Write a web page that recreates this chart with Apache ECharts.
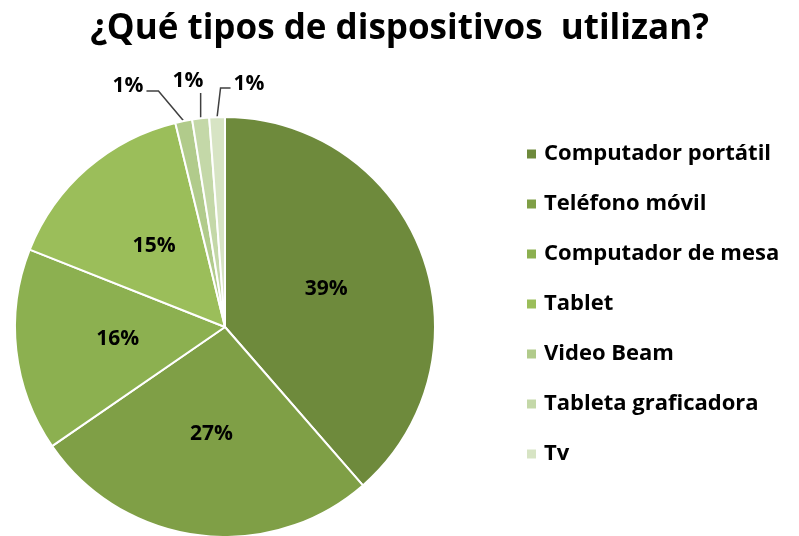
<!DOCTYPE html>
<html>
<head>
<meta charset="utf-8">
<script src="https://cdn.jsdelivr.net/npm/echarts@6/dist/echarts.min.js"></script>
<style>
  html, body { margin: 0; padding: 0; background: #fff; }
  #chart { width: 799px; height: 536px; }
</style>
</head>
<body>
<div id="chart"></div>
<script>
const categories = ['Computador portátil', 'Teléfono móvil', 'Computador de mesa', 'Tablet', 'Video Beam', 'Tableta graficadora', 'Tv'];
const values = [38.6, 26.8, 15.6, 15.2, 1.3, 1.3, 1.2];
const colors = ['#6e8a3c', '#7f9f46', '#8cb050', '#9bbe5a', '#b1cb8b', '#c4d8a8', '#d7e4c4'];

const myChart = echarts.init(document.getElementById('chart'));
const font = '"Open Sans", Lato, sans-serif';

// where the outside labels of the 3 thin slices sit (text centre)
const smallLabelSpots = {
  4: { x: 128, y: 86, side: 'left' },
  5: { x: 188, y: 81, side: 'down' },
  6: { x: 249, y: 84, side: 'right' }
};

const pieData = categories.map((name, i) => {
  const item = { name: name, value: values[i], itemStyle: { color: colors[i] } };
  if (i >= 4) {
    item.label = { position: 'outside' };
    item.labelLine = { show: true };
  }
  return item;
});

const option = {
  backgroundColor: '#fff',
  title: {
    text: '¿Qué tipos de dispositivos  utilizan?',
    left: 'center',
    top: 7,
    textStyle: { fontFamily: font, fontWeight: 'bold', fontSize: 35, color: '#000' }
  },
  legend: {
    orient: 'vertical',
    left: 520,
    top: 138,
    itemWidth: 11,
    itemHeight: 11,
    itemGap: 28,
    icon: 'rect',
    textStyle: {
      fontFamily: font, fontWeight: 'bold', fontSize: 22, lineHeight: 22,
      color: '#000', padding: [0, 0, 0, 2]
    },
    data: categories
  },
  series: [{
    type: 'pie',
    center: [225, 327],
    radius: 210,
    startAngle: 90,
    clockwise: true,
    percentPrecision: 0,
    animation: false,
    itemStyle: { borderColor: '#fff', borderWidth: 2 },
    label: {
      show: true,
      position: 'inside',
      formatter: '{d}%',
      fontFamily: font,
      fontWeight: 'bold',
      fontSize: 21,
      color: '#000'
    },
    labelLine: { length: 20, length2: 12, lineStyle: { color: '#404040', width: 1.5 } },
    labelLayout: function (params) {
      const spot = smallLabelSpots[params.dataIndex];
      if (!spot || !params.labelLinePoints) return {};
      const p0 = params.labelLinePoints[0];
      const r = params.labelRect;
      let pts;
      if (spot.side === 'left') {
        const ex = spot.x + r.width / 2 + 3;
        pts = [p0, [ex + 12, spot.y + 5], [ex, spot.y + 5]];
      } else if (spot.side === 'right') {
        const ex = spot.x - r.width / 2 - 3;
        pts = [p0, [ex - 10, spot.y + 4], [ex, spot.y + 4]];
      } else {
        pts = [p0, [p0[0], spot.y + 12], [p0[0], spot.y + 12]];
      }
      return {
        x: spot.x,
        y: spot.y,
        align: 'center',
        verticalAlign: 'middle',
        labelLinePoints: pts
      };
    },
    emphasis: { disabled: true },
    data: pieData
  }]
};

myChart.setOption(option);
</script>
</body>
</html>
